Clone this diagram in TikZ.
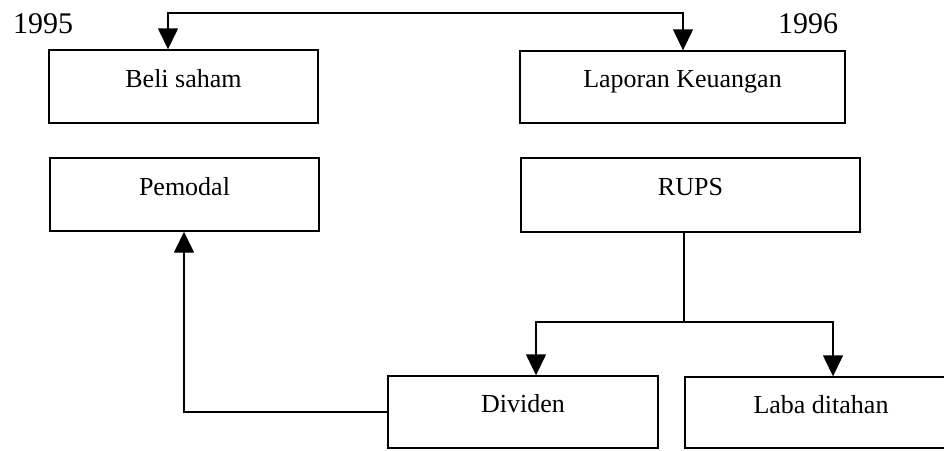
\documentclass[tikz,border=0pt]{standalone}
\usepackage{fontspec}
\setmainfont{Liberation Serif}
\usetikzlibrary{arrows.meta}
\begin{document}
\begin{tikzpicture}[x=1pt,y=-1pt,
  box/.style={draw, line width=1.4pt, inner sep=0pt, text height=11.5pt, text depth=10.5pt,
    font=\fontsize{26}{30}\selectfont},
  conn/.style={line width=1.4pt},
  arr/.style={conn, -{Triangle[width=20pt,length=21pt]}},
  arrboth/.style={conn, {Triangle[width=20pt,length=21pt]}-{Triangle[width=20pt,length=21pt]}},
  year/.style={anchor=base west, inner sep=0pt, font=\fontsize{30}{34}\selectfont}]
\useasboundingbox (0,0) rectangle (944,450);
\clip (0,0) rectangle (944,450);
% boxes
\node[box, minimum width=269pt, minimum height=73pt] (beli) at (183.5,86.5) {Beli saham};
\node[box, minimum width=269pt, minimum height=73pt] (pemodal) at (184.5,194.5) {Pemodal};
\node[box, minimum width=325pt, minimum height=72pt] (laporan) at (682.5,87) {Laporan Keuangan};
\node[box, minimum width=339pt, minimum height=74pt] (rups) at (690.5,195) {RUPS};
\node[box, minimum width=270pt, minimum height=72pt] (dividen) at (523,412) {Dividen};
\node[box, minimum width=272pt, minimum height=71pt] (laba) at (821,412.5) {Laba ditahan};
% years
\node[year] (y1995) at (13,33) {1995};
\node[year] (y1996) at (778,33) {1996};
% junction points
\coordinate (t1) at (168,13);
\coordinate (t2) at (683,13);
\coordinate (j) at (684,322);
\coordinate (bl) at (536,322);
\coordinate (br) at (833,322);
\coordinate (p) at (184,412);
% connectors
\draw[arrboth] (beli.north -| t1) -- (t1) -- (t2) -- (laporan.north -| t2);
\draw[conn] (rups.south -| j) -- (j);
\draw[arr] (j) -| (dividen.north -| bl);
\draw[arr] (j) -| (laba.north -| br);
\draw[arr] (dividen.west) -| (pemodal.south -| p);
\end{tikzpicture}
\end{document}
